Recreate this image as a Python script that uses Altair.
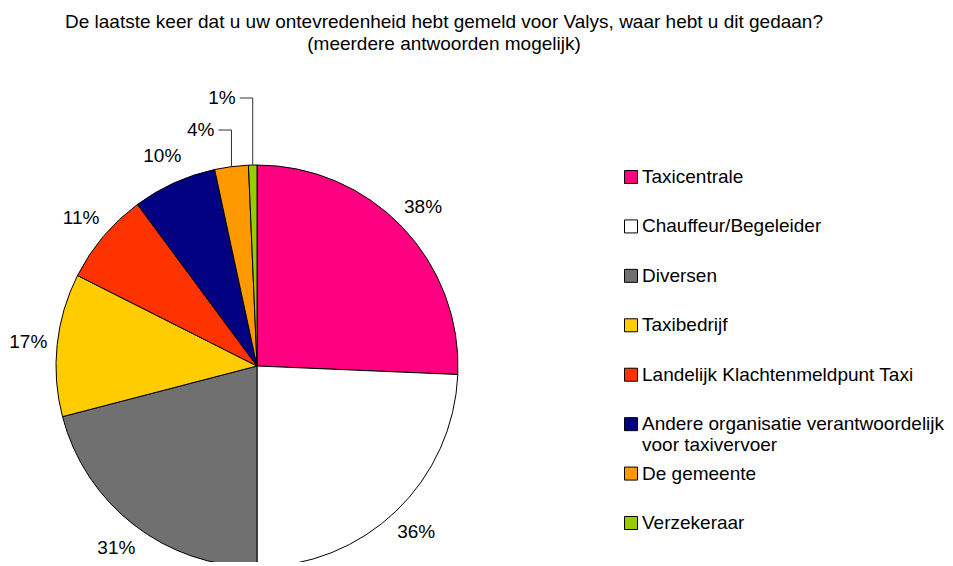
import altair as alt
import numpy as np
import pandas as pd

# ---------------- data ----------------
categories = [
    "Taxicentrale",
    "Chauffeur/Begeleider",
    "Diversen",
    "Taxibedrijf",
    "Landelijk Klachtenmeldpunt Taxi",
    "Andere organisatie verantwoordelijk voor taxivervoer",
    "De gemeente",
    "Verzekeraar",
]
legend_labels = [
    "Taxicentrale",
    "Chauffeur/Begeleider",
    "Diversen",
    "Taxibedrijf",
    "Landelijk Klachtenmeldpunt Taxi",
    "Andere organisatie verantwoordelijk\nvoor taxivervoer",
    "De gemeente",
    "Verzekeraar",
]
values = [38, 36, 31, 17, 11, 10, 4, 1]
colors = ["#FF0080", "#FFFFFF", "#707070", "#FFCC00",
          "#FF3300", "#000080", "#FF9900", "#99CC00"]
title_lines = [
    "De laatste keer dat u uw ontevredenheid hebt gemeld voor Valys, waar hebt u dit gedaan?",
    "(meerdere antwoorden mogelijk)",
]
callouts = ["De gemeente", "Verzekeraar"]   # labels drawn with leader lines
callout_rise = [236, 268]                   # label height above pie centre (px)

# ---------------- layout ----------------
W, H = 937, 554
CX, CY = 249, 358          # pie centre (plot coords)
R = 201                    # pie radius
LABEL_R = 230
FONT = "Liberation Sans"
FS = 19

df = pd.DataFrame({
    "cat": categories,
    "legend": legend_labels,
    "value": values,
    "idx": list(range(len(values))),
})
df["label"] = [("" if c in callouts else f"{v}%") for c, v in zip(categories, values)]

# leader lines for the callout labels (computed from the slice angles)
total = float(sum(values))
cum = np.cumsum(values)
rows_line, rows_lab = [], []
for c, rise in zip(callouts, callout_rise):
    i = categories.index(c)
    mid = (cum[i] - values[i] / 2.0) / total * 2 * np.pi
    ex, ey = R * np.sin(mid), R * np.cos(mid)
    pts = [(ex, ey), (ex, rise), (ex - 13, rise)]
    for k, (px, py) in enumerate(pts):
        rows_line.append({"cat": c, "k": k, "px": px, "py": py})
    rows_lab.append({"cat": c, "px": ex - 13 - 4, "py": rise, "label": f"{values[i]}%"})
lines_df = pd.DataFrame(rows_line)
labs_df = pd.DataFrame(rows_lab)

color_scale = alt.Scale(domain=categories, range=colors)
xs = alt.Scale(domain=[-CX, W - CX], range=[0, W])
ys = alt.Scale(domain=[CY - H, CY], range=[H, 0])

base = alt.Chart(df).encode(
    theta=alt.Theta("value:Q", stack=True),
    order=alt.Order("idx:Q"),
)

pie = base.mark_arc(outerRadius=R, stroke="#000000", strokeWidth=1).encode(
    color=alt.Color("cat:N", scale=color_scale, legend=None),
    x=alt.value(CX), y=alt.value(CY),
)

pie_labels = base.mark_text(radius=LABEL_R, font=FONT, fontSize=FS, color="#000000",
                            align="center", baseline="middle").encode(
    text="label:N", x=alt.value(CX), y=alt.value(CY),
)

leader = alt.Chart(lines_df).mark_line(color="#333333", strokeWidth=1).encode(
    x=alt.X("px:Q", scale=xs, axis=None),
    y=alt.Y("py:Q", scale=ys, axis=None),
    detail="cat:N",
    order="k:Q",
)

callout_text = alt.Chart(labs_df).mark_text(font=FONT, fontSize=FS, color="#000000",
                                            align="right", baseline="middle").encode(
    x=alt.X("px:Q", scale=xs, axis=None),
    y=alt.Y("py:Q", scale=ys, axis=None),
    text="label:N",
)

leg_y = alt.Y("cat:N", sort=categories,
              scale=alt.Scale(type="point", range=[169, 515], padding=0), axis=None)

legend_sym = alt.Chart(df).mark_square(size=169, stroke="#000000", strokeWidth=1,
                                       opacity=1).encode(
    x=alt.value(623),
    y=leg_y,
    color=alt.Color("cat:N", scale=color_scale, legend=None),
)

legend_txt = alt.Chart(df).mark_text(font=FONT, fontSize=FS, color="#000000",
                                     align="left", baseline="middle",
                                     lineBreak="\n", lineHeight=21).encode(
    x=alt.value(634),
    y=leg_y,
    text="legend:N",
)

title = alt.Chart(pd.DataFrame({"t": [0]})).mark_text(
    text=title_lines, font=FONT, fontSize=FS, color="#000000",
    align="center", baseline="alphabetic", lineHeight=22,
).encode(x=alt.value(436), y=alt.value(20))

chart = alt.layer(
    pie, pie_labels, leader, callout_text, legend_sym, legend_txt, title
).resolve_scale(
    x="independent", y="independent"
).properties(
    width=W, height=H,
    autosize=alt.AutoSizeParams(type="none"),
    padding=0,
    background="#FFFFFF",
).configure_view(stroke=None)

chart.save("out.html", embed_options={"renderer": "svg", "actions": False})
